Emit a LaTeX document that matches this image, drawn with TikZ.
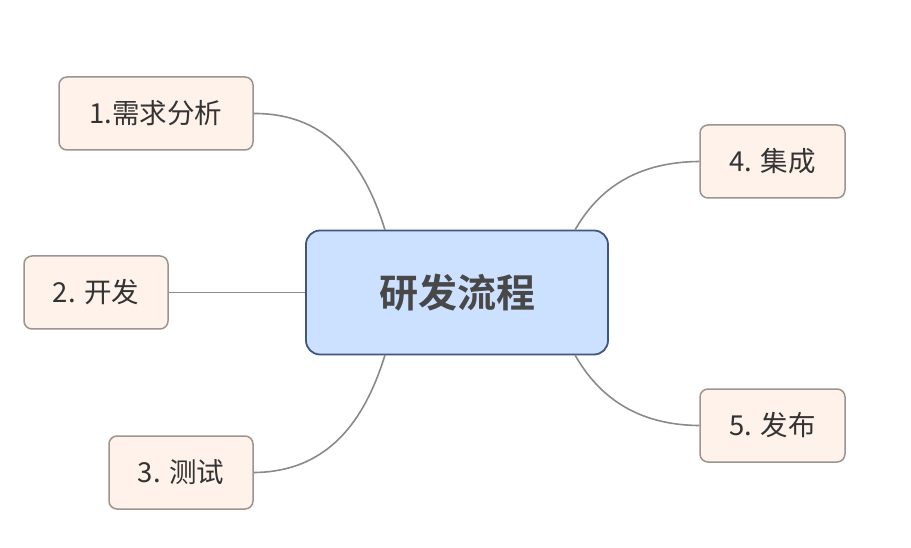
\documentclass[tikz,border=0pt]{standalone}
\usepackage{fontspec}
\setmainfont{Noto Sans CJK SC}
\newfontfamily\cjkbold{Noto Sans CJK SC Bold}
\definecolor{centerfill}{HTML}{CCE0FF}
\definecolor{centerdraw}{HTML}{3F5680}
\definecolor{leaffill}{HTML}{FEF2EA}
\definecolor{leafdraw}{HTML}{9C9490}
\definecolor{linkcol}{HTML}{8A8A8A}
\definecolor{txt}{HTML}{333333}
\definecolor{hubtxt}{HTML}{484848}
\begin{document}
\begin{tikzpicture}[x=1pt,y=-1pt,
  leaf/.style={draw=leafdraw,fill=leaffill,line width=1.5pt,rounded corners=8pt,
    minimum height=73pt,inner sep=0pt,text=txt,font=\fontsize{27.5}{32}\selectfont},
  hub/.style={draw=centerdraw,fill=centerfill,line width=1.8pt,rounded corners=14pt,
    minimum width=302pt,minimum height=124pt,inner sep=0pt,text=hubtxt,
    font=\cjkbold\fontsize{39}{44}\selectfont},
  link/.style={draw=linkcol,line width=1.6pt}]
\useasboundingbox (0,0) rectangle (911,548);
\node[hub] (c) at (457,292.5) {研发流程};
\node[leaf,minimum width=194pt] (n1) at (156,113.5) {1.需求分析};
\node[leaf,minimum width=144pt] (n2) at (96,292.5) {2. 开发};
\node[leaf,minimum width=144pt] (n3) at (181,472.5) {3. 测试};
\node[leaf,minimum width=145pt] (n4) at (772.5,161.5) {4. 集成};
\node[leaf,minimum width=145pt] (n5) at (772.5,425.5) {5. 发布};
\coordinate (ct1) at (385,230);
\coordinate (ct3) at (385,355);
\coordinate (ct4) at (575,230);
\coordinate (ct5) at (575,355);
\draw[link] (n1.east) .. controls (335,113) and (368,175) .. (ct1);
\draw[link] (n2.east) -- (c.west);
\draw[link] (n3.east) .. controls (335,472) and (368,410) .. (ct3);
\draw[link] (n4.west) .. controls (630,162) and (595,195) .. (ct4);
\draw[link] (n5.west) .. controls (630,425) and (595,390) .. (ct5);
\end{tikzpicture}
\end{document}
